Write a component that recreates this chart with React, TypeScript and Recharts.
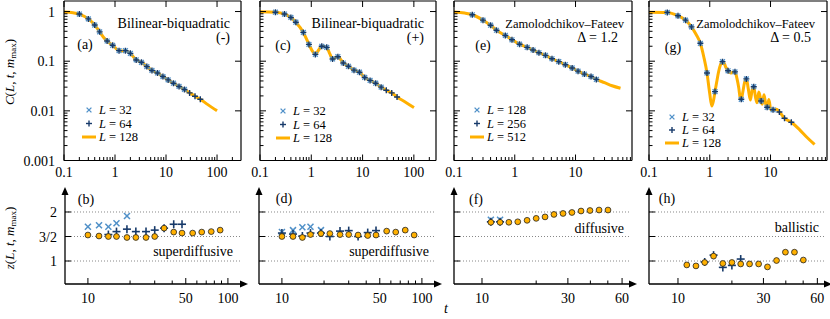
import React from 'react';
import { ComposedChart, Line, Scatter, XAxis, YAxis, CartesianGrid } from 'recharts';

const ORANGE = '#FFB000';
const BLUE_X = '#5090C8';
const BLUE_P = '#173A6A';
const FONT = '"Liberation Serif", "DejaVu Serif", serif';
const FS = 14;

// ---------- top row: C(L, t, m_max) ----------
const tMarks = [0.2, 0.3, 0.4, 0.5, 0.7, 0.9, 1.2, 1.6, 2, 2.6, 3.3, 4.2, 5.3, 6.8, 8.7, 11, 14, 18, 23, 29, 37, 47];

// (a) bilinear-biquadratic (-)
const cMarksA = [0.89, 0.71, 0.535, 0.39, 0.255, 0.209, 0.163, 0.163, 0.144, 0.106, 0.095, 0.078, 0.065, 0.058, 0.049, 0.042, 0.036, 0.031, 0.027, 0.023, 0.0197, 0.0171];
const tLineA = [0.1, 0.15, 0.2, 0.3, 0.4, 0.5, 0.6, 0.7, 0.9, 1.2, 1.4, 1.6, 2, 2.6, 3.3, 4.2, 5.3, 6.8, 8.7, 11, 14, 18, 23, 29, 37, 47, 65, 100];
const cLineA = [0.98, 0.95, 0.89, 0.71, 0.535, 0.39, 0.3, 0.255, 0.209, 0.163, 0.16, 0.163, 0.144, 0.106, 0.095, 0.078, 0.065, 0.058, 0.049, 0.042, 0.036, 0.031, 0.027, 0.023, 0.0197, 0.0171, 0.0135, 0.0100];

// (c) bilinear-biquadratic (+)
const cMarksC = [0.97, 0.89, 0.76, 0.61, 0.38, 0.218, 0.137, 0.2, 0.19, 0.111, 0.123, 0.092, 0.079, 0.066, 0.06, 0.047, 0.041, 0.036, 0.03, 0.026, 0.023, 0.019];
const tLineC = [0.1, 0.2, 0.3, 0.4, 0.5, 0.7, 0.9, 1.05, 1.2, 1.4, 1.6, 2, 2.3, 2.6, 3.0, 3.3, 4.2, 5.3, 6.8, 8.7, 11, 14, 18, 23, 29, 37, 47, 70, 100];
const cLineC = [0.99, 0.97, 0.89, 0.76, 0.61, 0.38, 0.218, 0.16, 0.137, 0.17, 0.2, 0.19, 0.14, 0.111, 0.12, 0.123, 0.092, 0.079, 0.066, 0.06, 0.047, 0.041, 0.036, 0.03, 0.026, 0.023, 0.019, 0.0148, 0.0116];

// (e) Zamolodchikov-Fateev, Delta = 1.2
const tMarksE = [0.2, 0.3, 0.4, 0.5, 0.7, 0.9, 1.2, 1.6, 2, 2.5, 3.2, 4.1, 5.3, 6.8, 8.8, 11, 14, 18, 22];
const cMarksE = [0.86, 0.67, 0.53, 0.42, 0.33, 0.27, 0.22, 0.19, 0.168, 0.148, 0.131, 0.112, 0.098, 0.085, 0.073, 0.063, 0.055, 0.049, 0.043];
const tLineE = [0.1, 0.15, 0.2, 0.3, 0.4, 0.5, 0.7, 0.9, 1.2, 1.6, 2, 2.5, 3.2, 4.1, 5.3, 6.8, 8.8, 11, 14, 18, 22, 30, 40, 55];
const cLineE = [0.98, 0.93, 0.86, 0.67, 0.53, 0.42, 0.33, 0.27, 0.22, 0.19, 0.168, 0.148, 0.131, 0.112, 0.098, 0.085, 0.073, 0.063, 0.055, 0.049, 0.043, 0.037, 0.032, 0.0285];

// (g) Zamolodchikov-Fateev, Delta = 0.5
const tMarksG = [0.2, 0.3, 0.4, 0.5, 0.7, 0.9, 1.22, 1.62, 2, 2.6, 3.3, 4.0, 5.3, 7.0, 8.8, 11, 14, 17, 22];
const cMarksG = [0.96, 0.82, 0.67, 0.49, 0.229, 0.058, 0.0244, 0.098, 0.064, 0.061, 0.0171, 0.044, 0.0306, 0.0158, 0.0118, 0.0105, 0.0095, 0.0071, 0.0059];
const tLineG = [0.1, 0.2, 0.3, 0.4, 0.5, 0.6, 0.7, 0.8, 0.9, 1.0, 1.08, 1.15, 1.22, 1.3, 1.4, 1.5, 1.62, 1.75, 1.85, 2.0, 2.2, 2.4, 2.6, 2.8, 3.0, 3.15, 3.3, 3.5, 3.75, 4.0, 4.3, 4.65, 5.0, 5.3, 5.65, 6.0, 6.4, 7.0, 7.3, 7.8, 8.3, 8.8, 9.4, 10.1, 11, 12.5, 14, 17, 22, 30, 40, 53];
const cLineG = [0.97, 0.96, 0.82, 0.67, 0.49, 0.34, 0.229, 0.12, 0.058, 0.022, 0.0125, 0.016, 0.0244, 0.038, 0.062, 0.085, 0.098, 0.088, 0.074, 0.064, 0.058, 0.06, 0.061, 0.045, 0.029, 0.019, 0.0171, 0.024, 0.038, 0.044, 0.028, 0.0165, 0.027, 0.0306, 0.019, 0.0145, 0.024, 0.0158, 0.0135, 0.021, 0.014, 0.0118, 0.017, 0.0105, 0.0105, 0.0108, 0.0095, 0.0071, 0.0059, 0.0042, 0.0029, 0.0021];

// ---------- bottom row: z(L, t, m_max) ----------
const tBD = [10, 12, 14, 16, 19, 22, 26, 30, 35, 41, 47, 56, 65, 76, 88];
const zB = [1.53, 1.51, 1.5, 1.5, 1.48, 1.48, 1.48, 1.5, 1.67, 1.59, 1.57, 1.57, 1.59, 1.6, 1.63];
const tBx = [10, 12, 14, 16, 19];
const zBx = [1.7, 1.73, 1.7, 1.77, 1.92];
const tBp = [14, 16, 19, 22, 26, 30, 35, 41, 47];
const zBp = [1.54, 1.6, 1.65, 1.6, 1.6, 1.63, 1.67, 1.75, 1.75];

const zD = [1.5, 1.5, 1.48, 1.54, 1.56, 1.56, 1.54, 1.54, 1.53, 1.52, 1.53, 1.61, 1.59, 1.63, 1.53];
const tDx = [10, 12, 14, 16, 19];
const zDx = [1.59, 1.63, 1.69, 1.7, 1.63];
const tDp = [10, 12, 14, 16, 19, 22, 26, 30, 35, 41, 47];
const zDp = [1.57, 1.55, 1.51, 1.57, 1.57, 1.5, 1.61, 1.62, 1.5, 1.58, 1.62];

const tFH = [11.2, 12.6, 14.1, 15.8, 17.8, 20, 22.4, 25.1, 28.2, 31.6, 35.5, 39.8, 44.7, 50.1];
const zF = [1.79, 1.79, 1.79, 1.8, 1.83, 1.87, 1.9, 1.95, 1.97, 1.99, 2.02, 2.03, 2.04, 2.04];
const tFx = [11.2, 12.6];
const zFx = [1.84, 1.84];
const zFp = [1.8, 1.8];

const zH = [0.92, 0.9, 0.97, 1.1, 0.95, 0.97, 0.94, 0.94, 0.94, 0.88, 1.01, 1.18, 1.18, 1.02];
const tHp = [14.1, 15.8, 17.8, 20, 22.4];
const zHp = [0.98, 1.12, 0.87, 0.91, 1.04];

// ---------- ticks ----------
const xMajorAC = [0.1, 1, 10, 100];
const xMajorEG = [0.1, 1, 10];
const yMajorTop = [0.001, 0.01, 0.1, 1];
const xMajorBD = [10, 50, 100];
const xMinorBD = [20, 30, 40, 60, 70, 80, 90];
const xMajorFH = [10, 30, 60];
const xMinorFH = [20, 40, 50];
const zTicks = [1, 1.5, 2];
const zTickLabels = ['1', '3/2', '2'];

const withMinor = (majors: number[], max: number) => {
  const out: number[] = [];
  majors.forEach((m) => {
    out.push(m);
    for (let k = 2; k <= 9; k++) if (m * k <= max) out.push(m * k);
  });
  return out;
};

const pts = (ts: number[], vs: number[], key: string) => ts.map((t, i) => ({ t, [key]: vs[i] }));

// ---------- marker shapes ----------
const XMark = (size: number, w: number) => (p: any) => (
  <g stroke={BLUE_X} strokeWidth={w}>
    <line x1={p.cx - size} y1={p.cy - size} x2={p.cx + size} y2={p.cy + size} />
    <line x1={p.cx - size} y1={p.cy + size} x2={p.cx + size} y2={p.cy - size} />
  </g>
);
const PlusMark = (size: number, w: number) => (p: any) => (
  <g stroke={BLUE_P} strokeWidth={w}>
    <line x1={p.cx - size} y1={p.cy} x2={p.cx + size} y2={p.cy} />
    <line x1={p.cx} y1={p.cy - size} x2={p.cx} y2={p.cy + size} />
  </g>
);
const CircleMark = (p: any) => <circle cx={p.cx} cy={p.cy} r={2.9} fill={ORANGE} stroke="#222" strokeWidth={0.8} />;

// ---------- tick renderer ----------
const makeTick = (side: string, majors: number[], labelOf: ((v: number) => string) | null, dy = 15) => (p: any) => {
  const v = p.payload.value;
  const major = majors.indexOf(v) >= 0;
  const len = major ? 6 : 3.5;
  const { x, y } = p;
  let ln: any = null;
  let label: string | null = null;
  let lx = x;
  let ly = y;
  let anchor = 'middle';
  if (side === 'bottom') {
    ln = <line x1={x} y1={y} x2={x} y2={y - len} />;
    if (labelOf && major) { label = labelOf(v); ly = y + dy; }
  } else if (side === 'top') {
    ln = <line x1={x} y1={y} x2={x} y2={y + len} />;
  } else if (side === 'left') {
    ln = <line x1={x} y1={y} x2={x + len} y2={y} />;
    if (labelOf && major) { label = labelOf(v); lx = x - dy; ly = y + 5; anchor = 'end'; }
  } else {
    ln = <line x1={x} y1={y} x2={x - len} y2={y} />;
  }
  return (
    <g>
      <g stroke="#000" strokeWidth={1}>{ln}</g>
      {label !== null && (
        <text x={lx} y={ly} textAnchor={anchor} fontFamily={FONT} fontSize={FS} fill="#000">{label}</text>
      )}
    </g>
  );
};

// axes take 1px of room (a zero-size axis is not drawn), margins compensate
const M = { top: 7, right: 7, bottom: 25, left: 45 };
const MB = { top: 8, right: 8, bottom: 25, left: 45 };
const TOP_Y = 1;
const TOP_H = 159.5;
const Y_DOMAIN_TOP = [0.001, 1.63];

function TopPanel({ x, w, xDomain, xMajor, yLabels, line, xs, ps }: any) {
  const xTicks = withMinor(xMajor, xDomain[1]);
  const yTicks = withMinor(yMajorTop, 1);
  const axis = { stroke: '#000', strokeWidth: 1.2 };
  return (
    <div style={{ position: 'absolute', left: x - M.left - 1, top: TOP_Y - M.top - 1 }}>
      <ComposedChart width={w + M.left + M.right + 2} height={TOP_H + M.top + M.bottom + 2} margin={M}>
        <XAxis xAxisId={0} type="number" dataKey="t" scale="log" domain={xDomain} allowDataOverflow ticks={xTicks} interval={0} height={1} tickSize={0} tickMargin={0} tickLine={false} axisLine={axis} tick={makeTick('bottom', xMajor, (v) => String(v), 16.5)} />
        <XAxis xAxisId="top" orientation="top" type="number" dataKey="t" scale="log" domain={xDomain} allowDataOverflow ticks={xMajor} interval={0} height={1} tickSize={0} tickMargin={0} tickLine={false} axisLine={axis} tick={makeTick('top', xMajor, null)} />
        <YAxis yAxisId={0} type="number" dataKey="c" scale="log" domain={Y_DOMAIN_TOP} allowDataOverflow ticks={yTicks} interval={0} width={1} tickSize={0} tickMargin={0} tickLine={false} axisLine={axis} tick={makeTick('left', yMajorTop, yLabels ? (v) => String(v) : null, 9)} />
        <YAxis yAxisId="right" orientation="right" type="number" dataKey="c" scale="log" domain={Y_DOMAIN_TOP} allowDataOverflow ticks={yMajorTop} interval={0} width={1} tickSize={0} tickMargin={0} tickLine={false} axisLine={axis} tick={makeTick('right', yMajorTop, null)} />
        <Line data={line} dataKey="c" type="monotone" stroke={ORANGE} strokeWidth={3} dot={false} isAnimationActive={false} />
        <Scatter data={xs} dataKey="c" shape={XMark(2.4, 1.3)} isAnimationActive={false} />
        <Scatter data={ps} dataKey="c" shape={PlusMark(3, 1.4)} isAnimationActive={false} />
      </ComposedChart>
    </div>
  );
}

const BOT_Y = 194;
const BOT_H = 90;
const Z_DOMAIN = [0.531, 2.367];

function BottomPanel({ x, w, xDomain, xMajor, xMinor, yLabels, circles, xs, ps }: any) {
  const xTicks = [...xMajor, ...xMinor].sort((a, b) => a - b);
  const axis = { stroke: '#000', strokeWidth: 1.3 };
  return (
    <div style={{ position: 'absolute', left: x - MB.left - 1, top: BOT_Y - MB.top }}>
      <ComposedChart width={w + MB.left + MB.right + 1} height={BOT_H + MB.top + MB.bottom + 1} margin={MB}>
        <CartesianGrid vertical={false} horizontalValues={zTicks} stroke="#888" strokeDasharray="1 2" />
        <XAxis type="number" dataKey="t" scale="log" domain={xDomain} allowDataOverflow ticks={xTicks} interval={0} height={1} tickSize={0} tickMargin={0} tickLine={false} axisLine={axis} tick={makeTick('bottom', xMajor, (v) => String(v), 19)} />
        <YAxis type="number" dataKey="z" domain={Z_DOMAIN} allowDataOverflow ticks={zTicks} interval={0} width={1} tickSize={0} tickMargin={0} tickLine={false} axisLine={axis} tick={makeTick('left', zTicks, yLabels ? (v) => zTickLabels[zTicks.indexOf(v)] : null, 8)} />
        {xs && <Scatter data={xs} dataKey="z" shape={XMark(3, 1.5)} isAnimationActive={false} />}
        {ps && <Scatter data={ps} dataKey="z" shape={PlusMark(4, 1.6)} isAnimationActive={false} />}
        <Scatter data={circles} dataKey="z" shape={CircleMark} isAnimationActive={false} />
      </ComposedChart>
    </div>
  );
}

const It = ({ children }: any) => <tspan fontStyle="italic">{children}</tspan>;

function LegendBox({ x, y, labels, dy = 13.5 }: any) {
  return (
    <g>
      {XMark(2.4, 1.3)({ cx: x, cy: y })}
      {PlusMark(3, 1.4)({ cx: x, cy: y + dy })}
      <line x1={x - 7} y1={y + 2 * dy} x2={x + 7} y2={y + 2 * dy} stroke={ORANGE} strokeWidth={3} />
      {labels.map((l: string, i: number) => (
        <text key={i} x={x + 10} y={y + i * dy + 4} fontSize={12.5}>
          <It>L</It> = {l}
        </text>
      ))}
    </g>
  );
}

function Arrows({ x, w }: any) {
  const y0 = BOT_Y;
  const y1 = BOT_Y + BOT_H;
  return (
    <g fill="#000">
      <polygon points={`${x},${y0 - 7} ${x - 3.5},${y0 + 1} ${x + 3.5},${y0 + 1}`} />
      <polygon points={`${x + w + 7},${y1} ${x + w - 1},${y1 - 3.5} ${x + w - 1},${y1 + 3.5}`} />
    </g>
  );
}

const PANELS_X = [64, 259.5, 454, 649];

export default function App() {
  return (
    <div style={{ position: 'absolute', left: 0, top: 0, width: 830, height: 319, background: '#fff', overflow: 'hidden', fontFamily: FONT }}>
      <TopPanel x={PANELS_X[0]} w={177} xDomain={[0.1, 295]} xMajor={xMajorAC} yLabels line={pts(tLineA, cLineA, 'c')} xs={pts(tMarks.slice(0, 19), cMarksA.slice(0, 19), 'c')} ps={pts(tMarks, cMarksA, 'c')} />
      <TopPanel x={PANELS_X[1]} w={176} xDomain={[0.1, 270]} xMajor={xMajorAC} line={pts(tLineC, cLineC, 'c')} xs={pts(tMarks.slice(0, 19), cMarksC.slice(0, 19), 'c')} ps={pts(tMarks, cMarksC, 'c')} />
      <TopPanel x={PANELS_X[2]} w={178} xDomain={[0.1, 85]} xMajor={xMajorEG} line={pts(tLineE, cLineE, 'c')} xs={pts(tMarksE, cMarksE, 'c')} ps={pts(tMarksE, cMarksE, 'c')} />
      <TopPanel x={PANELS_X[3]} w={178} xDomain={[0.1, 85]} xMajor={xMajorEG} line={pts(tLineG, cLineG, 'c')} xs={pts(tMarksG.slice(0, 16), cMarksG.slice(0, 16), 'c')} ps={pts(tMarksG, cMarksG, 'c')} />

      <BottomPanel x={65} w={176} xDomain={[6.86, 124]} xMajor={xMajorBD} xMinor={xMinorBD} yLabels circles={pts(tBD, zB, 'z')} xs={pts(tBx, zBx, 'z')} ps={pts(tBp, zBp, 'z')} />
      <BottomPanel x={259} w={176} xDomain={[6.86, 124]} xMajor={xMajorBD} xMinor={xMinorBD} circles={pts(tBD, zD, 'z')} xs={pts(tDx, zDx, 'z')} ps={pts(tDp, zDp, 'z')} />
      <BottomPanel x={454} w={176} xDomain={[6.99, 66.4]} xMajor={xMajorFH} xMinor={xMinorFH} circles={pts(tFH, zF, 'z')} xs={pts(tFx, zFx, 'z')} ps={pts(tFx, zFp, 'z')} />
      <BottomPanel x={649} w={176} xDomain={[6.89, 66.2]} xMajor={xMajorFH} xMinor={xMinorFH} circles={pts(tFH, zH, 'z')} ps={pts(tHp, zHp, 'z')} />

      <svg width={830} height={319} style={{ position: 'absolute', left: 0, top: 0, pointerEvents: 'none' }} fontFamily={FONT} fontSize={FS} fill="#000">
        <text transform="rotate(-90)" x={-72} y={14} textAnchor="middle" fontSize={13}>
          <It>C</It>(<It>L</It>, <It>t</It>, <It>m</It>
          <tspan fontSize={9} dy={2}>max</tspan>
          <tspan dy={-2}>)</tspan>
        </text>
        <text transform="rotate(-90)" x={-238} y={14} textAnchor="middle" fontSize={13}>
          <It>z</It>(<It>L</It>, <It>t</It>, <It>m</It>
          <tspan fontSize={9} dy={2}>max</tspan>
          <tspan dy={-2}>)</tspan>
        </text>
        <text x={446} y={313} textAnchor="middle"><It>t</It></text>

        <text x={230} y={28} textAnchor="end">Bilinear-biquadratic</text>
        <text x={230} y={42} textAnchor="end">(-)</text>
        <text x={85} y={49} textAnchor="middle">(a)</text>
        <text x={424} y={28} textAnchor="end">Bilinear-biquadratic</text>
        <text x={424} y={42} textAnchor="end">(+)</text>
        <text x={283} y={50} textAnchor="middle">(c)</text>
        <text x={624} y={28} textAnchor="end" fontSize={12.5}>Zamolodchikov–Fateev</text>
        <text x={618} y={42} textAnchor="end">Δ = 1.2</text>
        <text x={483} y={50} textAnchor="middle">(e)</text>
        <text x={815} y={28} textAnchor="end" fontSize={12.5}>Zamolodchikov–Fateev</text>
        <text x={811} y={42} textAnchor="end">Δ = 0.5</text>
        <text x={673} y={52} textAnchor="middle">(g)</text>

        <LegendBox x={89} y={110} labels={['32', '64', '128']} />
        <LegendBox x={283} y={111} labels={['32', '64', '128']} />
        <LegendBox x={477} y={110} labels={['128', '256', '512']} />
        <LegendBox x={672} y={117} labels={['32', '64', '128']} dy={13} />

        <text x={86} y={204} textAnchor="middle">(b)</text>
        <text x={233} y={255.5} textAnchor="end">superdiffusive</text>
        <text x={284} y={203} textAnchor="middle">(d)</text>
        <text x={429} y={255.5} textAnchor="end">superdiffusive</text>
        <text x={476} y={204} textAnchor="middle">(f)</text>
        <text x={624} y={232.5} textAnchor="end">diffusive</text>
        <text x={667} y={203} textAnchor="middle">(h)</text>
        <text x={819} y={231.5} textAnchor="end">ballistic</text>

        <Arrows x={65} w={176} />
        <Arrows x={259} w={176} />
        <Arrows x={454} w={176} />
        <Arrows x={649} w={176} />
      </svg>
    </div>
  );
}
